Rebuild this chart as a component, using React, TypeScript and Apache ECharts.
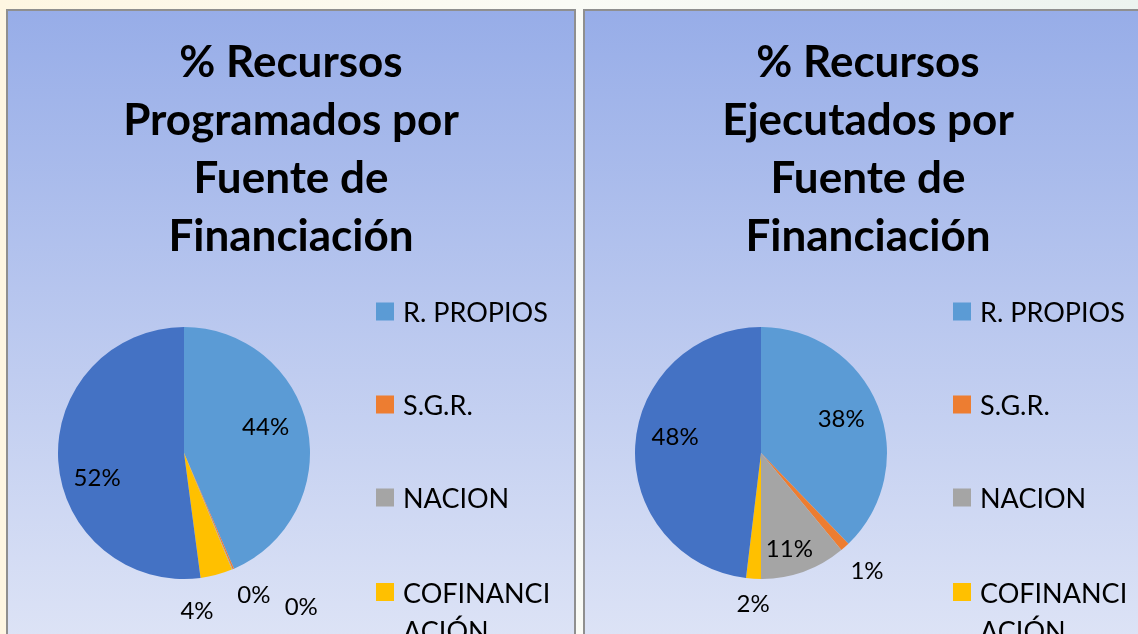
import React, { useEffect, useRef } from "react";
import * as echarts from "echarts";

// ---- data ----
const categories = ["R. PROPIOS", "S.G.R.", "NACION", "COFINANCIACIÓN", "S.G.P."];
const legendCategories = ["R. PROPIOS", "S.G.R.", "NACION", "COFINANCIACIÓN"];
const programados = [43.5, 0.2, 0.1, 4.1, 52.1];
const ejecutados = [37.8, 1.2, 11.0, 1.9, 48.1];
const titleProgramados = "% Recursos\nProgramados por\nFuente de\nFinanciación";
const titleEjecutados = "% Recursos\nEjecutados por\nFuente de\nFinanciación";

// ---- styles ----
const colors = ["#5B9BD5", "#ED7D31", "#A5A5A5", "#FFC000", "#4472C4"];
const labelNudgeProg = [[17, -14], [44, 80], [92, 92], [-4, 93], [-21, 19]];
const labelNudgeEjec = [[19, -11], [62, 67], [6, 32], [-4, 84], [-20, -14]];
const FONT = "Lato, 'Open Sans', sans-serif";

const panelFill = {
  type: "linear",
  x: 0,
  y: 0,
  x2: 0,
  y2: 1,
  colorStops: [
    { offset: 0, color: "#97ADE8" },
    { offset: 1, color: "#DEE4F6" },
  ],
};

function pieSeries(name: string, values: number[], center: number[], nudges: number[][]) {
  return {
    type: "pie",
    name,
    center,
    radius: 126,
    startAngle: 90,
    clockwise: true,
    percentPrecision: 0,
    avoidLabelOverlap: false,
    label: {
      show: true,
      position: "inside",
      formatter: "{d}%",
      fontSize: 24,
      fontFamily: FONT,
      color: "#000",
    },
    labelLine: { show: false },
    emphasis: { disabled: true },
    itemStyle: { borderWidth: 0 },
    data: categories.map((c, i) => ({
      name: c,
      value: values[i],
      itemStyle: { color: colors[i] },
      label: { offset: nudges[i] },
    })),
  };
}

function legend(left: number) {
  return {
    orient: "vertical",
    left,
    top: 298,
    width: 180,
    height: 400,
    padding: 0,
    itemWidth: 18,
    itemHeight: 18,
    itemGap: 66,
    icon: "rect",
    selectedMode: false,
    textStyle: {
      fontSize: 27,
      fontFamily: FONT,
      color: "#000",
      padding: [0, 0, 0, 4],
    },
    data: legendCategories.map((n) =>
      n === "COFINANCIACIÓN"
        ? {
            name: n,
            textStyle: {
              width: 150,
              overflow: "breakAll",
              lineHeight: 38,
              padding: [-4, 0, -42, 4],
              rich: { x: {} },
            },
          }
        : n
    ),
  };
}

function title(text: string, left: number) {
  return {
    text,
    left,
    top: 31,
    padding: 0,
    textAlign: "center",
    textStyle: {
      fontSize: 44,
      fontWeight: "bold",
      fontFamily: FONT,
      color: "#000",
      lineHeight: 58,
    },
  };
}

export default function App() {
  const ref = useRef<HTMLDivElement>(null);
  useEffect(() => {
    if (!ref.current) return;
    const chart = echarts.init(ref.current, undefined, { renderer: "svg" });
    chart.setOption({
      animation: false,
      textStyle: { fontFamily: FONT },
      graphic: {
        elements: [
          {
            type: "rect",
            z: 0,
            silent: true,
            shape: { x: 0, y: 0, width: 1138, height: 634 },
            style: {
              fill: {
                type: "linear",
                x: 0,
                y: 0,
                x2: 1,
                y2: 0,
                colorStops: [
                  { offset: 0, color: "#FEF6E2" },
                  { offset: 0.5, color: "#FAFBF6" },
                  { offset: 1, color: "#ECF3EF" },
                ],
              },
            },
          },
          {
            type: "rect",
            z: 0,
            silent: true,
            shape: { x: 7, y: 10, width: 568, height: 640 },
            style: { fill: panelFill, stroke: "#8F8F8F", lineWidth: 2 },
          },
          {
            type: "rect",
            z: 0,
            silent: true,
            shape: { x: 584, y: 10, width: 600, height: 640 },
            style: { fill: panelFill, stroke: "#8F8F8F", lineWidth: 2 },
          },
        ],
      },
      title: [title(titleProgramados, 291), title(titleEjecutados, 868)],
      legend: [legend(376), legend(953)],
      series: [
        pieSeries("Programados", programados, [184, 453], labelNudgeProg),
        pieSeries("Ejecutados", ejecutados, [761, 453], labelNudgeEjec),
      ],
    });
    return () => chart.dispose();
  }, []);
  return (
    <div
      ref={ref}
      style={{ position: "fixed", left: 0, top: 0, width: 1138, height: 634 }}
    />
  );
}
